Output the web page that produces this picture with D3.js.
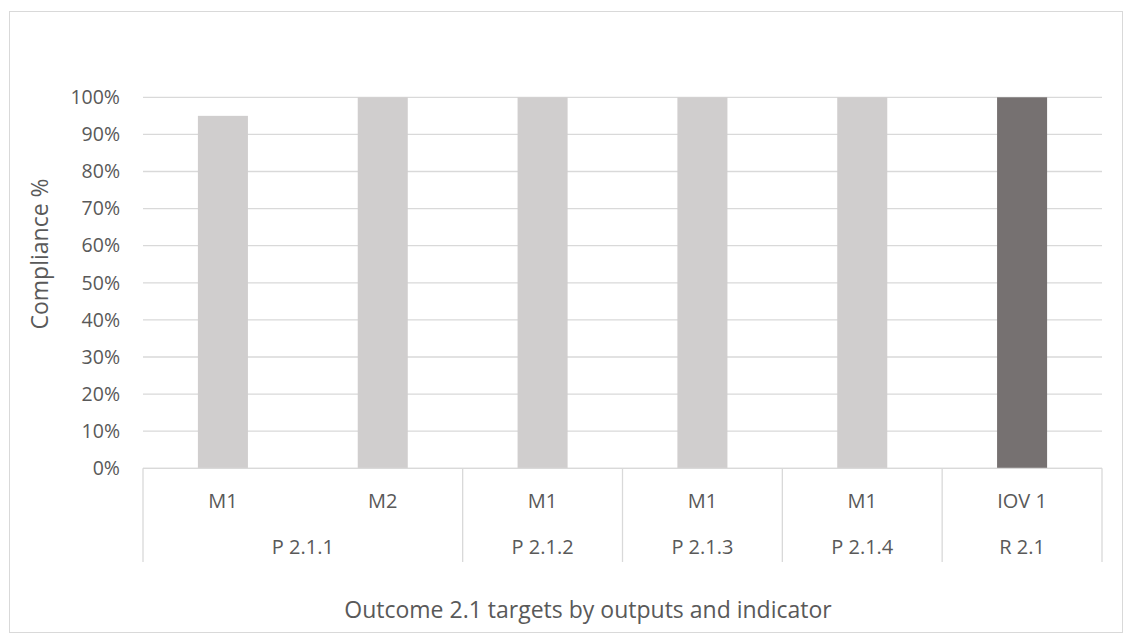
<!DOCTYPE html>
<html>
<head>
<meta charset="utf-8">
<script src="https://cdn.jsdelivr.net/npm/d3@7/dist/d3.min.js"></script>
<style>
  html, body { margin: 0; padding: 0; background: #fff; }
  text { font-family: "Open Sans", "Liberation Sans", sans-serif; fill: #595959; }
</style>
</head>
<body>
<svg id="chart" width="1133" height="643"></svg>
<script>
// Indicator categories, their parent output groups and compliance values
const categories = ["M1", "M2", "M1", "M1", "M1", "IOV 1"];
const groups = ["P 2.1.1", "P 2.1.1", "P 2.1.2", "P 2.1.3", "P 2.1.4", "R 2.1"];
const values = [0.95, 1.0, 1.0, 1.0, 1.0, 1.0];
const highlight = [false, false, false, false, false, true];
const yTicks = [0, 0.1, 0.2, 0.3, 0.4, 0.5, 0.6, 0.7, 0.8, 0.9, 1.0];

const svg = d3.select("#chart");

// chart frame
svg.append("rect")
  .attr("x", 9.5).attr("y", 11.5)
  .attr("width", 1113).attr("height", 621)
  .attr("fill", "#fff").attr("stroke", "#d9d9d9").attr("stroke-width", 1);

const plot = { left: 143, right: 1102, top: 97.3, bottom: 468.3 };

const x = d3.scaleBand()
  .domain(d3.range(categories.length))
  .range([plot.left, plot.right])
  .paddingInner(0.687).paddingOuter(0.3435);

const xCat = d3.scaleBand()
  .domain(d3.range(categories.length))
  .range([plot.left, plot.right]);

const y = d3.scaleLinear().domain([0, 1]).range([plot.bottom, plot.top]);

// gridlines
svg.append("g")
  .selectAll("line")
  .data(yTicks)
  .join("line")
  .attr("x1", plot.left).attr("x2", plot.right)
  .attr("y1", d => y(d)).attr("y2", d => y(d))
  .attr("stroke", "#d9d9d9").attr("stroke-width", 1.3);

// y axis labels
const yAxis = d3.axisLeft(y).tickValues(yTicks).tickFormat(d3.format(".0%")).tickSize(0).tickPadding(0);
svg.append("g")
  .attr("transform", `translate(${plot.left - 23},0)`)
  .call(yAxis)
  .call(g => g.select(".domain").remove())
  .selectAll("text")
  .style("font-size", "19.5px")
  .attr("fill", "#595959");

// bars
svg.append("g")
  .selectAll("rect")
  .data(values)
  .join("rect")
  .attr("x", (d, i) => x(i))
  .attr("width", x.bandwidth())
  .attr("y", d => y(d))
  .attr("height", d => y(0) - y(d))
  .attr("fill", (d, i) => highlight[i] ? "#767171" : "#d0cece");

// category axis: baseline, group separators, labels
const axisBottom = 562;
const ax = svg.append("g").attr("stroke", "#d9d9d9").attr("stroke-width", 1.3);
ax.append("line")
  .attr("x1", plot.left).attr("x2", plot.right)
  .attr("y1", plot.bottom).attr("y2", plot.bottom);

// boundaries where the group changes (plus both ends)
const bounds = [0];
for (let i = 1; i < groups.length; i++) if (groups[i] !== groups[i - 1]) bounds.push(i);
bounds.push(groups.length);
const edge = b => b < groups.length ? xCat(b) : plot.right;
ax.selectAll("line.sep")
  .data(bounds)
  .join("line")
  .attr("class", "sep")
  .attr("x1", edge).attr("x2", edge)
  .attr("y1", plot.bottom).attr("y2", axisBottom);

svg.append("g")
  .selectAll("text")
  .data(categories)
  .join("text")
  .attr("x", (d, i) => xCat(i) + xCat.bandwidth() / 2)
  .attr("y", 508)
  .attr("text-anchor", "middle")
  .style("font-size", "20px")
  .text(d => d);

const groupSpans = [];
for (let k = 0; k < bounds.length - 1; k++) {
  groupSpans.push({ name: groups[bounds[k]], start: bounds[k], end: bounds[k + 1] });
}
svg.append("g")
  .selectAll("text")
  .data(groupSpans)
  .join("text")
  .attr("x", s => (edge(s.start) + edge(s.end)) / 2)
  .attr("y", 554)
  .attr("text-anchor", "middle")
  .style("font-size", "20px")
  .text(s => s.name);

// axis titles
svg.append("text")
  .attr("x", 588)
  .attr("y", 618)
  .attr("text-anchor", "middle")
  .style("font-size", "23px")
  .text("Outcome 2.1 targets by outputs and indicator");

svg.append("text")
  .attr("transform", "translate(48,254) rotate(-90)")
  .attr("text-anchor", "middle")
  .style("font-size", "23px")
  .text("Compliance %");
</script>
</body>
</html>
